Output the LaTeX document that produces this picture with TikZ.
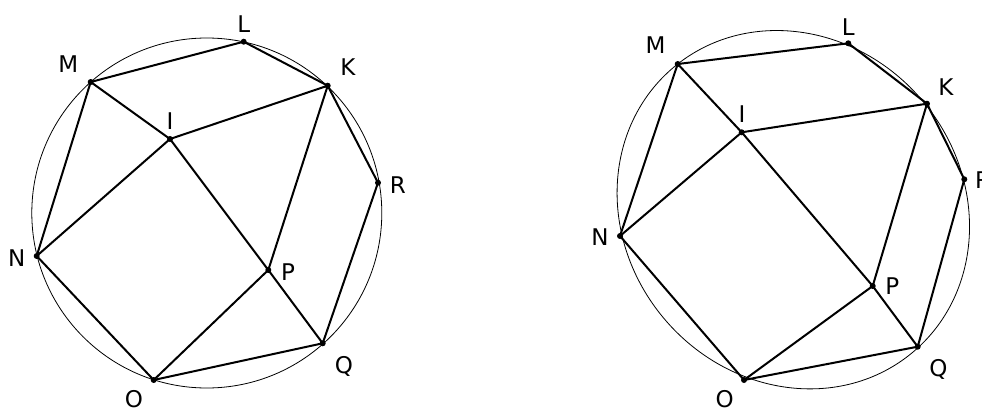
\documentclass[tikz,border=0pt]{standalone}
\usepackage{fontspec}
\setmainfont{DejaVu Sans}
\tikzset{
  seg/.style={line width=2pt, line cap=round, line join=round},
  circ/.style={line width=0.8pt},
  pt/.style={circle, fill=black, inner sep=0pt, minimum size=6pt},
  lbl/.style={inner sep=0pt, anchor=base, font=\fontsize{23}{23}\selectfont}
}
\begin{document}
\begin{tikzpicture}[x=1pt,y=-1pt]
\useasboundingbox (0,0) rectangle (982,412);
% ---------- left figure ----------
\draw[circ] (206.8,213) circle[radius=175];
\node[pt] (L1) at (243.7,41.7) {};
\node[pt] (M1) at (90.7,82) {};
\node[pt] (K1) at (327.7,85.7) {};
\node[pt] (I1) at (170,139) {};
\node[pt] (R1) at (378,182.7) {};
\node[pt] (N1) at (36.7,256) {};
\node[pt] (P1) at (268.3,270) {};
\node[pt] (Q1) at (322.7,343.3) {};
\node[pt] (O1) at (153.7,380) {};
\draw[seg] (M1.center) -- (L1.center) -- (K1.center) -- (R1.center) -- (Q1.center) -- (O1.center) -- (N1.center) -- (M1.center);
\draw[seg] (M1.center) -- (I1.center) -- (P1.center) -- (Q1.center);
\draw[seg] (I1.center) -- (K1.center);
\draw[seg] (I1.center) -- (N1.center);
\draw[seg] (K1.center) -- (P1.center) -- (O1.center);
\node[lbl] (tL1) at (243.7,33) {L};
\node[lbl] (tM1) at (68.3,72.3) {M};
\node[lbl] (tK1) at (348,75.2) {K};
\node[lbl] (tI1) at (170,129.8) {I};
\node[lbl] (tR1) at (397.8,193.5) {R};
\node[lbl] (tN1) at (16.8,266) {N};
\node[lbl] (tP1) at (288,280.2) {P};
\node[lbl] (tQ1) at (344,373.2) {Q};
\node[lbl] (tO1) at (133.8,407) {O};
% ---------- right figure ----------
\begin{scope}[shift={(793.3,209.7)}, rotate=-50]
\draw[circ] (0,0) ellipse[x radius=186, y radius=169];
\end{scope}
\node[pt] (L2) at (848.3,43.3) {};
\node[pt] (M2) at (677.7,64) {};
\node[pt] (K2) at (927,103.7) {};
\node[pt] (I2) at (741.7,132.3) {};
\node[pt] (R2) at (964.3,179.3) {};
\node[pt] (N2) at (620,236) {};
\node[pt] (P2) at (872.7,286) {};
\node[pt] (Q2) at (917.7,346.7) {};
\node[pt] (O2) at (744,380) {};
\draw[seg] (M2.center) -- (L2.center) -- (K2.center) -- (R2.center) -- (Q2.center) -- (O2.center) -- (N2.center) -- (M2.center);
\draw[seg] (M2.center) -- (I2.center) -- (P2.center) -- (Q2.center);
\draw[seg] (I2.center) -- (K2.center);
\draw[seg] (I2.center) -- (N2.center);
\draw[seg] (K2.center) -- (P2.center) -- (O2.center);
\node[lbl] (tL2) at (848.3,35.2) {L};
\node[lbl] (tM2) at (655.5,53.8) {M};
\node[lbl] (tK2) at (946,95.2) {K};
\node[lbl] (tI2) at (742,122.8) {I};
\node[lbl] (tR2) at (983,188.5) {R};
\node[lbl] (tN2) at (600,245.2) {N};
\node[lbl] (tP2) at (892.3,294.7) {P};
\node[lbl] (tQ2) at (938.3,376.8) {Q};
\node[lbl] (tO2) at (724.7,407) {O};
\end{tikzpicture}
\end{document}
